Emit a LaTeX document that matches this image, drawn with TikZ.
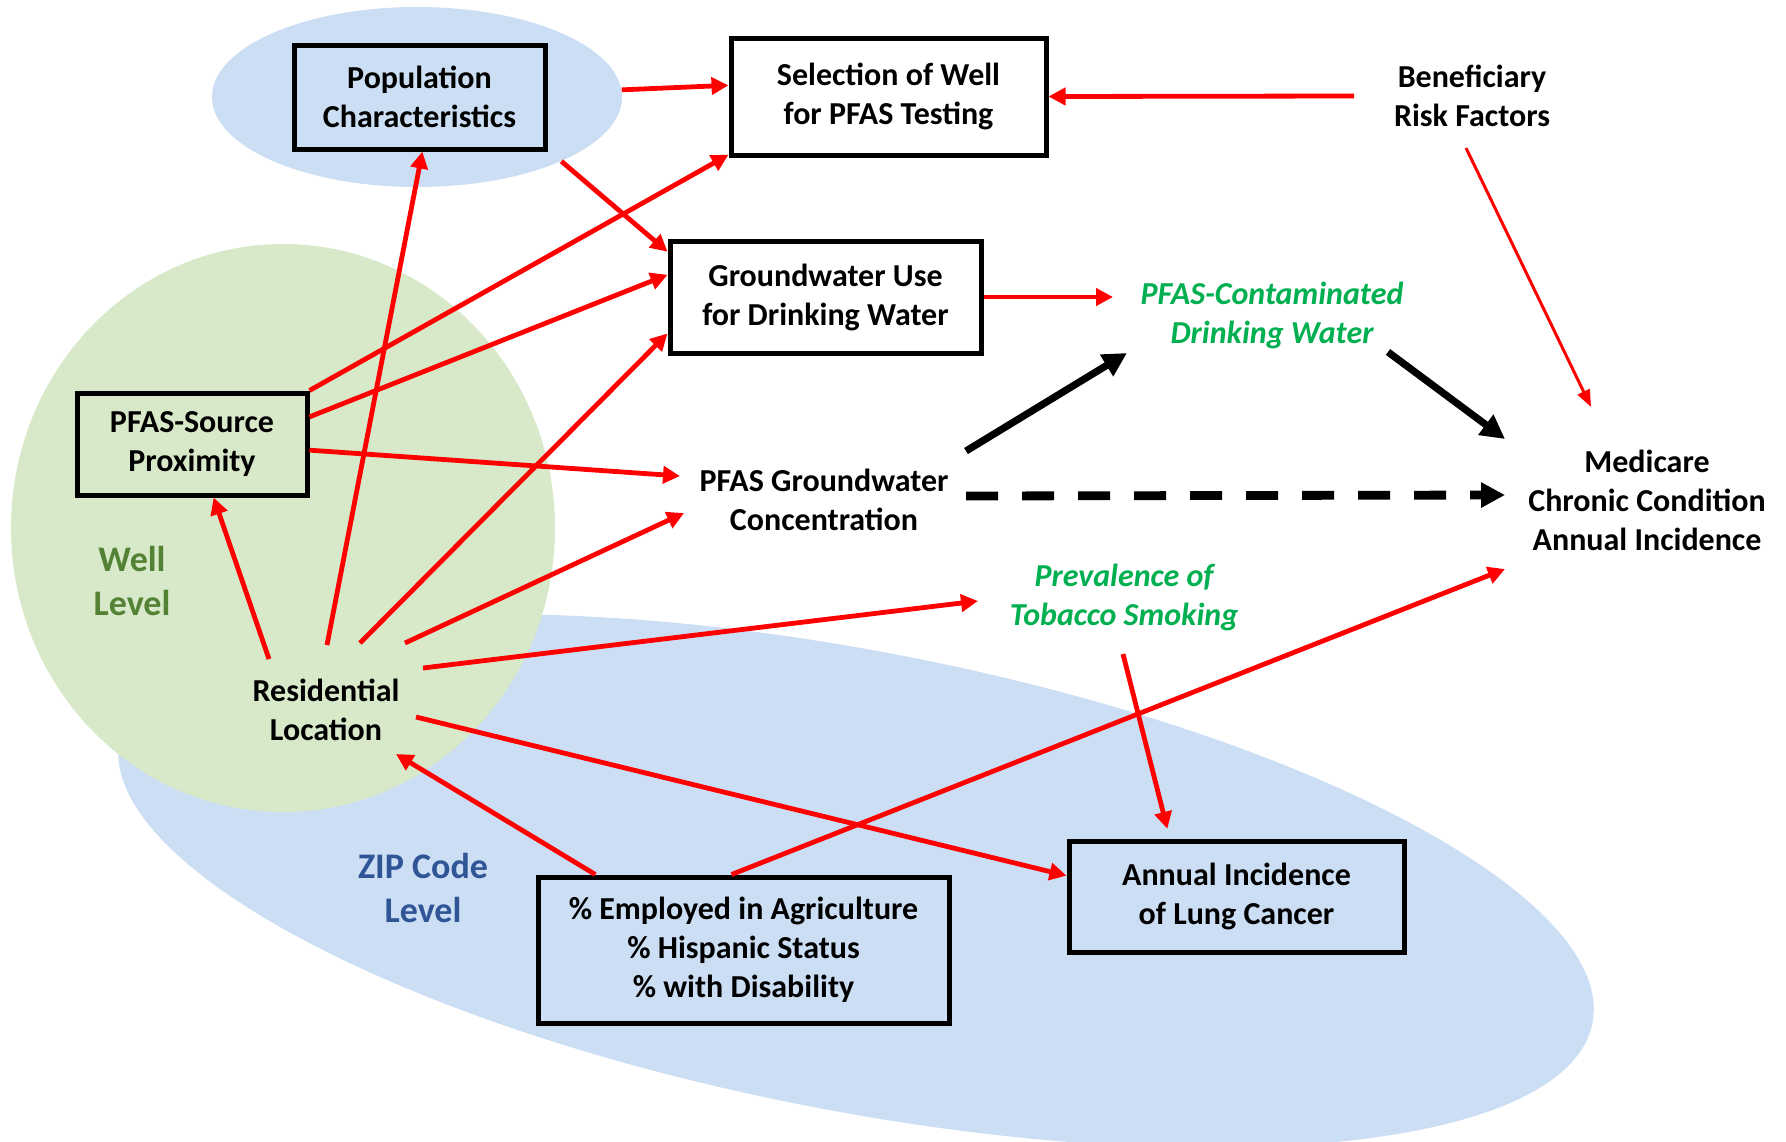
\documentclass[tikz,border=0pt]{standalone}
\usepackage{fontspec}
\setmainfont{Carlito}
\usetikzlibrary{arrows.meta,shapes.geometric,calc}
\definecolor{zipfill}{RGB}{203,222,243}
\definecolor{wellfill}{RGB}{216,233,201}
\definecolor{wellgreen}{RGB}{84,130,53}
\definecolor{zipblue}{RGB}{47,85,151}
\definecolor{pfasgreen}{RGB}{0,176,80}
\newcommand{\dgmfont}{\fontsize{16pt}{19.5pt}\selectfont\bfseries}
\newcommand{\lvlfont}{\fontsize{18pt}{22pt}\selectfont\bfseries}
\tikzset{
  box/.style={draw, line width=2.5pt, inner sep=0pt, align=center, font=\dgmfont},
  txt/.style={inner sep=0pt, align=center, font=\dgmfont},
  gtxt/.style={inner sep=0pt, align=center, font=\dgmfont\itshape, text=pfasgreen},
  redarr/.style={draw=red, line width=2.4pt, -{Triangle[length=8.5pt,width=8.5pt]}},
  thinred/.style={draw=red, line width=1.5pt, -{Triangle[length=8.5pt,width=6.5pt]}},
  blkarr/.style={draw=black, line width=3.6pt, -{Triangle[length=12pt,width=12pt]}},
}
\begin{document}
\begin{tikzpicture}[x=0.5pt,y=-0.5pt]
\useasboundingbox (0,0) rectangle (1786,1141);
\fill[white] (0,0) rectangle (1786,1141);
\begin{scope}
\clip (0,0) rectangle (1786,1141);
\fill[zipfill, rotate around={-10.9:(856,881)}] (856,881) ellipse [x radius=375pt, y radius=115pt];
\fill[wellfill] (283,528) ellipse [x radius=136pt, y radius=142pt];
\end{scope}
\node[ellipse, fill=zipfill, minimum width=205pt, minimum height=90pt, inner sep=0pt] (popell) at (417,97) {};

% level labels
\node[inner sep=0pt, align=center, font=\lvlfont, text=wellgreen] (well) at (132,581) {Well\\Level};
\node[inner sep=0pt, align=center, font=\lvlfont, text=zipblue] (zip) at (423,888) {ZIP Code\\Level};

% boxes
\node[box, minimum width=125.5pt, minimum height=52pt] (pop) at (419.5,97) {Population\\Characteristics};
\node[box, fill=white, minimum width=157.5pt, minimum height=58.5pt] (sel) at (888.5,96.5) {Selection of Well\\for PFAS Testing};
\node[box, fill=white, minimum width=155.5pt, minimum height=56pt] (gw) at (825.5,297) {Groundwater Use\\for Drinking Water};
\node[box, minimum width=115pt, minimum height=51pt] (src) at (192,444) {PFAS-Source\\Proximity};
\node[box, minimum width=205.5pt, minimum height=73pt] (emp) at (743.5,950) {\% Employed in Agriculture\\\% Hispanic Status\\\% with Disability};
\node[box, minimum width=167.5pt, minimum height=55.5pt] (lung) at (1236.5,896.5) {Annual Incidence\\of Lung Cancer};

% text nodes
\node[txt] (ben) at (1472,96) {Beneficiary\\Risk Factors};
\node[gtxt] (pcd) at (1272,315) {PFAS-Contaminated\\Drinking Water};
\node[txt] (med) at (1647,500) {Medicare\\Chronic Condition\\Annual Incidence};
\node[txt] (conc) at (824,500) {PFAS Groundwater\\Concentration};
\node[gtxt] (prev) at (1124,597) {Prevalence of\\Tobacco Smoking};
\node[txt] (resid) at (326,710) {Residential\\Location};

% red arrows
\draw[redarr] (popell.2) -- (sel.176);
\draw[redarr] ($(ben)+(-118,0)$) -- (sel.east);
\draw[thinred] ($(ben)+(-6,52)$) -- ($(med)+(-56,-93)$);
\draw[redarr] (popell.336) -- (gw.164);
\draw[redarr] (src.north east) -- (sel.200);
\draw[redarr] (src.13) -- (gw.172);
\draw[redarr] (src.357) -- ($(conc)+(-144,-24)$);
\draw[redarr] ($(resid)+(1,-65)$) -- (pop.273);
\draw[redarr] ($(resid)+(-57,-51)$) -- (src.292);
\draw[redarr] ($(resid)+(34,-67)$) -- (gw.193);
\draw[redarr] ($(resid)+(79,-67)$) -- ($(conc)+(-140,13)$);
\draw[redarr] ($(resid)+(97,-42)$) -- ($(prev)+(-146,4)$);
\draw[redarr] ($(resid)+(90,7)$) -- (lung.173);
\draw[redarr] (emp.153) -- ($(resid)+(70,44)$);
\draw[redarr] (emp.99) -- ($(med)+(-142,69)$);
\draw[redarr, shorten >=5pt] ($(prev)+(-1,57)$) -- (lung.139);
\draw[redarr] (gw.east) -- ($(pcd)+(-159,-18)$);

% black arrows
\draw[blkarr] ($(conc)+(142,-49)$) -- ($(pcd)+(-145,38)$);
\draw[blkarr] ($(pcd)+(116,37)$) -- ($(med)+(-142,-61)$);
\draw[blkarr, line width=4.4pt, dash pattern=on 16pt off 12pt] ($(conc)+(142,-4)$) -- ($(med)+(-142,-5)$);
\end{tikzpicture}
\end{document}
